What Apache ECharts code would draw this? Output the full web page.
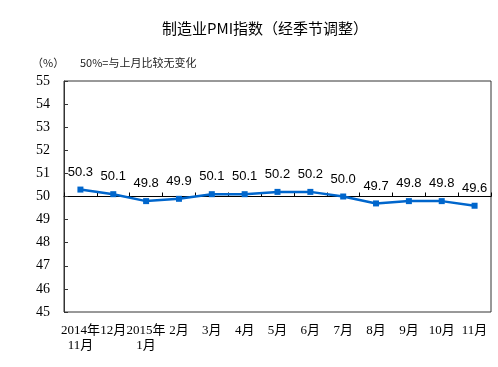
<!DOCTYPE html>
<html><head><meta charset="utf-8">
<script src="https://cdn.jsdelivr.net/npm/echarts@6/dist/echarts.min.js"></script>
<style>html,body{margin:0;padding:0;background:#fff}#c{width:498px;height:367px}</style>
</head><body><div id="c"></div>
<script>
var categories = ['2014年\n11月','12月','2015年\n1月','2月','3月','4月','5月','6月','7月','8月','9月','10月','11月'];
var pmi = [50.3,50.1,49.8,49.9,50.1,50.1,50.2,50.2,50.0,49.7,49.8,49.8,49.6];
var serif = '"Liberation Serif","Noto Sans CJK SC",serif';
var chart = echarts.init(document.getElementById('c'));
chart.setOption({
  animation:false,
  title:[
    {text:'制造业PMI指数（经季节调整）',left:157,top:16,textStyle:{fontSize:15,fontWeight:'normal',color:'#000',fontFamily:'"Noto Sans CJK SC",sans-serif'}},
    {text:'（%）',left:27,top:52,textStyle:{fontSize:11,fontWeight:'normal',color:'#222',fontFamily:'"Noto Sans CJK SC",sans-serif'}},
    {text:'50%=与上月比较无变化',left:75,top:52,textStyle:{fontSize:11,fontWeight:'normal',color:'#222',fontFamily:'"Noto Sans CJK SC",sans-serif'}}
  ],
  grid:[
    {left:64,right:7,top:81,bottom:55,show:true,borderColor:'#333',borderWidth:1,backgroundColor:'transparent'},
    {left:64,right:7,top:81,bottom:170.5}
  ],
  xAxis:[
    {type:'category',data:categories,boundaryGap:true,gridIndex:0,
     axisLine:{show:false},axisTick:{show:false},
     axisLabel:{color:'#000',fontSize:13,fontFamily:serif,lineHeight:15,margin:11,interval:0}},
    {type:'category',data:categories,boundaryGap:true,gridIndex:1,position:'bottom',
     axisLine:{show:true,lineStyle:{color:'#000',width:1}},
     axisTick:{show:true,inside:true,length:4,interval:0,lineStyle:{color:'#000'}},
     axisLabel:{show:false}}
  ],
  yAxis:[
    {type:'value',min:45,max:55,interval:1,gridIndex:0,
     axisLine:{show:true,lineStyle:{color:'#333'}},
     axisTick:{show:true,inside:true,length:4,lineStyle:{color:'#333'}},
     splitLine:{show:false},
     axisLabel:{color:'#000',fontSize:14,fontFamily:serif,margin:14}},
    {type:'value',min:50,max:55,gridIndex:1,show:false}
  ],
  series:[{type:'line',data:pmi,xAxisIndex:0,yAxisIndex:0,
    symbol:'rect',symbolSize:6,
    lineStyle:{color:'#0066CC',width:2.5},
    itemStyle:{color:'#0066CC'},
    label:{show:true,position:'top',distance:8,color:'#000',fontSize:13,fontFamily:'"Liberation Sans",Arial,sans-serif',
      formatter:function(p){return p.value.toFixed(1);}}
  }]
});
</script></body></html>
